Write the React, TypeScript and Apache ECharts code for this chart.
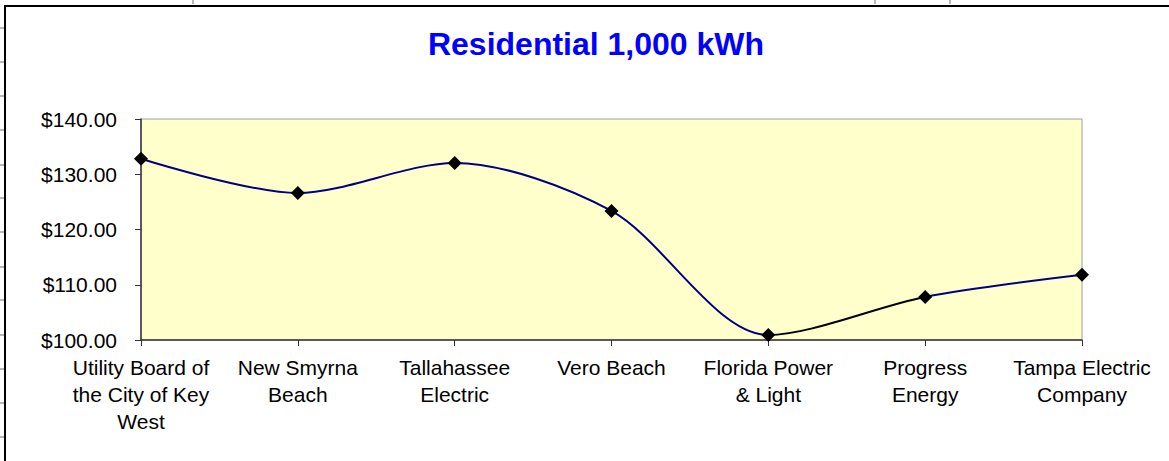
import React, { useEffect, useRef } from "react";
import * as echarts from "echarts";

const titleText = "Residential 1,000 kWh";
const categories = [
  "Utility Board of\nthe City of Key\nWest",
  "New Smyrna\nBeach",
  "Tallahassee\nElectric",
  "Vero Beach",
  "Florida Power\n& Light",
  "Progress\nEnergy",
  "Tampa Electric\nCompany",
];
const bills = [132.8, 126.6, 132.05, 123.35, 100.9, 107.8, 111.8];
const yTicks = { min: 100, max: 140, interval: 10 };

// spreadsheet cell grid visible around the chart object
const sheetRowLines = [28, 62, 96, 130, 165, 198, 232, 267, 300, 335, 369, 403, 437];
const sheetColLines = [193, 875, 950];

export default function App() {
  const ref = useRef<HTMLDivElement>(null);
  useEffect(() => {
    if (!ref.current) return;
    const chart = echarts.init(ref.current, undefined, { renderer: "svg" });
    const font = "'Liberation Sans', Arial, sans-serif";
    const graphics: any[] = [];
    sheetRowLines.forEach((y) =>
      graphics.push({
        type: "line",
        shape: { x1: 0, y1: y, x2: 4, y2: y },
        style: { stroke: "#b8b8b8", lineWidth: 2 },
        z: 100,
      })
    );
    sheetColLines.forEach((x) =>
      graphics.push({
        type: "line",
        shape: { x1: x, y1: 0, x2: x, y2: 4 },
        style: { stroke: "#b8b8b8", lineWidth: 2 },
        z: 100,
      })
    );
    graphics.push({
      type: "rect",
      shape: { x: 5, y: 6, width: 1300, height: 600 },
      style: { fill: "none", stroke: "#000000", lineWidth: 2 },
      z: 100,
      silent: true,
    });
    chart.setOption({
      animation: false,
      backgroundColor: "#ffffff",
      title: {
        text: titleText,
        left: 591,
        textAlign: "center",
        top: 23,
        textStyle: {
          fontFamily: font,
          fontWeight: "bold",
          fontSize: 32,
          color: "#0000ff",
        },
      },
      graphic: graphics,
      grid: {
        left: 141,
        right: 87,
        top: 119,
        bottom: 121,
        show: true,
        backgroundColor: "#ffffcc",
        borderColor: "#a0a0a0",
        borderWidth: 1,
        containLabel: false,
      },
      xAxis: {
        type: "category",
        data: categories,
        boundaryGap: false,
        axisLine: { lineStyle: { color: "#333333", width: 1.5 } },
        axisTick: { show: true, length: 6, lineStyle: { color: "#333333" } },
        axisLabel: {
          interval: 0,
          margin: 14,
          fontFamily: font,
          fontSize: 21,
          lineHeight: 27,
          color: "#000000",
          align: "center",
        },
        splitLine: { show: false },
      },
      yAxis: {
        type: "value",
        min: yTicks.min,
        max: yTicks.max,
        interval: yTicks.interval,
        axisLine: { show: true, lineStyle: { color: "#333333", width: 1.5 } },
        axisTick: { show: true, length: 6, lineStyle: { color: "#333333" } },
        axisLabel: {
          margin: 24,
          fontFamily: font,
          fontSize: 21,
          color: "#000000",
          formatter: (v: number) => "$" + v.toFixed(2),
        },
        splitLine: { show: false },
      },
      visualMap: {
        show: false,
        type: "piecewise",
        seriesIndex: 0,
        dimension: 0,
        pieces: [
          { lt: 4, color: "#000080" },
          { gte: 4, lte: 5, color: "#000000" },
          { gt: 5, color: "#000080" },
        ],
      },
      series: [
        {
          type: "line",
          data: bills,
          smooth: 0.3,
          showSymbol: false,
          lineStyle: { width: 2 },
          z: 2,
        },
        {
          type: "scatter",
          data: bills,
          symbol: "diamond",
          symbolSize: 14,
          itemStyle: { color: "#000000", opacity: 1 },
          z: 3,
        },
      ],
    });
    return () => chart.dispose();
  }, []);
  return (
    <div
      ref={ref}
      style={{ position: "fixed", left: 0, top: 0, width: 1169, height: 461 }}
    />
  );
}
